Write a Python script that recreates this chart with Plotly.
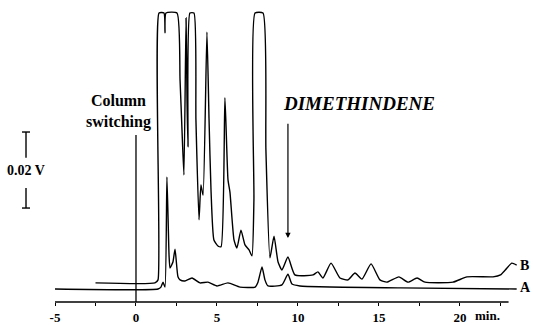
import plotly.graph_objects as go

# Trace A (blank / lower chromatogram): time in min, signal in V (baseline = 0)
time_A = [-5.0, 1.36, 1.54, 1.67, 1.79, 1.91, 2.04, 2.10, 2.28, 2.41, 2.59, 2.72,
          3.02, 3.46, 3.95, 4.44, 5.00, 5.68, 6.42, 7.35, 7.53, 7.78, 7.96, 8.15,
          9.01, 9.38, 9.63, 10.12, 16.30, 23.5]
signal_A = [0.0, 0.0, 0.0005, 0.0018, 0.0005, 0.0295, 0.0089, 0.0055, 0.0071, 0.0105, 0.0032, 0.0024,
            0.0021, 0.0029, 0.0016, 0.0018, 0.0008, 0.0016, 0.0005, 0.0005, 0.0018, 0.0058, 0.0024, 0.0008,
            0.0011, 0.0039, 0.0013, 0.0008, 0.0003, 0.0]

# Trace B (sample chromatogram); 0.0726 V = recorder full scale (flat tops)
time_B = [-2.5, 1.17, 1.36, 1.42, 1.73, 1.79, 1.85, 2.53, 2.72, 2.84, 2.96, 3.09,
          3.15, 3.21, 3.33, 3.58, 3.70, 3.89, 4.01, 4.14, 4.38, 4.51, 4.63, 4.81,
          5.06, 5.25, 5.49, 5.68, 5.80, 6.05, 6.23, 6.48, 6.73, 6.98, 7.16, 7.28,
          7.35, 7.84, 8.02, 8.27, 8.52, 8.77, 9.01, 9.38, 9.81, 10.93, 11.23, 11.54,
          12.04, 12.59, 13.09, 13.52, 13.95, 14.51, 15.06, 15.49, 16.23, 16.79, 17.35, 17.84,
          19.57, 20.43, 22.04, 22.5, 22.8, 23.2, 23.5]
signal_B = [0.0016, 0.0016, 0.0024, 0.0726, 0.0726, 0.0674, 0.0726, 0.0726, 0.0550, 0.0418, 0.0300, 0.0713,
            0.0497, 0.0374, 0.0726, 0.0726, 0.0445, 0.0182, 0.0274, 0.0247, 0.0676, 0.0445, 0.0261, 0.0129,
            0.0113, 0.0111, 0.0503, 0.0287, 0.0255, 0.0129, 0.0108, 0.0155, 0.0116, 0.0103, 0.0087, 0.0234,
            0.0726, 0.0726, 0.0366, 0.0082, 0.0139, 0.0071, 0.0050, 0.0084, 0.0037, 0.0037, 0.0045, 0.0029,
            0.0068, 0.0029, 0.0024, 0.0042, 0.0026, 0.0066, 0.0024, 0.0018, 0.0032, 0.0018, 0.0029, 0.0018,
            0.0018, 0.0032, 0.0032, 0.0037, 0.0050, 0.0068, 0.0063]

tick_values = [-5, -2.5, 0, 2.5, 5, 7.5, 10, 12.5, 15, 17.5, 20, 22.5]
tick_labels = ["-5", "", "0", "", "5", "", "10", "", "15", "", "20", ""]
axis_unit = "min."

switch_time = 0.0
dimethindene_time = 9.38
dimethindene_signal = 0.0134
scale_bar_volts = 0.02
scale_bar_bottom = 0.0213

FONT = "Liberation Serif"
x_range = [-5, 24.2]
y_range = [-0.00342, 0.0734]

fig = go.Figure()
for t, s in [(time_A, signal_A), (time_B, signal_B)]:
    fig.add_trace(go.Scatter(x=t, y=s, mode="lines",
                             line=dict(color="black", width=1.4, shape="spline", smoothing=0.5),
                             showlegend=False, hoverinfo="skip"))

BAR_X = -0.0613
CAP = 0.0085
shapes = [
    # x axis line (ends at 23 min)
    dict(type="line", xref="x", yref="paper", x0=-5, x1=23, y0=0, y1=0,
         line=dict(color="black", width=1.5)),
    # column switching marker
    dict(type="line", xref="x", yref="y", x0=switch_time, x1=switch_time,
         y0=y_range[0], y1=0.0405, line=dict(color="black", width=1.3)),
    # scale bar (0.02 V)
    dict(type="line", xref="paper", yref="y", x0=BAR_X, x1=BAR_X,
         y0=scale_bar_bottom + scale_bar_volts, y1=0.0345, line=dict(color="black", width=1.4)),
    dict(type="line", xref="paper", yref="y", x0=BAR_X, x1=BAR_X,
         y0=scale_bar_bottom, y1=0.0266, line=dict(color="black", width=1.4)),
    dict(type="line", xref="paper", yref="y", x0=BAR_X - CAP, x1=BAR_X + CAP,
         y0=scale_bar_bottom + scale_bar_volts, y1=scale_bar_bottom + scale_bar_volts,
         line=dict(color="black", width=1.4)),
    dict(type="line", xref="paper", yref="y", x0=BAR_X - CAP, x1=BAR_X + CAP,
         y0=scale_bar_bottom, y1=scale_bar_bottom, line=dict(color="black", width=1.4)),
]

bold = dict(family=FONT, color="black", weight="bold")
annotations = [
    dict(x=-1.1, y=0.0466, xref="x", yref="y", text="Column<br>switching", showarrow=False,
         xanchor="center", yanchor="middle", font=dict(size=16, **bold), align="center"),
    dict(x=8.95, y=0.0489, xref="x", yref="y", text="<i>DIMETHINDENE</i>", showarrow=False,
         xanchor="left", yanchor="middle", font=dict(size=19, **bold)),
    dict(x=dimethindene_time, y=dimethindene_signal, xref="x", yref="y",
         ax=dimethindene_time, ay=0.0439, axref="x", ayref="y", text="",
         showarrow=True, arrowhead=2, arrowsize=0.9, arrowwidth=1.2, arrowcolor="black"),
    dict(x=BAR_X, y=scale_bar_bottom + scale_bar_volts / 2, xref="paper", yref="y",
         text="0.02 V", showarrow=False, xanchor="center", yanchor="middle",
         font=dict(size=14, **bold)),
    dict(x=23.6, y=signal_B[-1], xref="x", yref="y", text="B", showarrow=False,
         xanchor="left", yanchor="middle", font=dict(size=14, **bold)),
    dict(x=23.6, y=signal_A[-1] + 0.0005, xref="x", yref="y", text="A", showarrow=False,
         xanchor="left", yanchor="middle", font=dict(size=14, **bold)),
    dict(x=21.7, y=-0.047, xref="x", yref="paper", text=axis_unit, showarrow=False,
         xanchor="center", yanchor="middle", font=dict(size=13, **bold)),
]

fig.update_layout(
    width=533, height=325,
    margin=dict(l=55, r=5, t=10, b=23),
    paper_bgcolor="white", plot_bgcolor="white",
    shapes=shapes, annotations=annotations,
    xaxis=dict(range=x_range, tickvals=tick_values, ticktext=tick_labels,
               showgrid=False, zeroline=False, showline=False,
               ticks="outside", ticklen=3, tickwidth=1.3, tickcolor="black",
               tickfont=dict(size=13, **bold), automargin=False),
    yaxis=dict(range=y_range, visible=False, automargin=False),
)

# remove the default page margin so the 533x325 figure fills the window exactly
fig.write_html(
    "out.html",
    config={"displayModeBar": False},
    post_script="document.body.style.margin='0';document.body.style.overflow='hidden';",
)
